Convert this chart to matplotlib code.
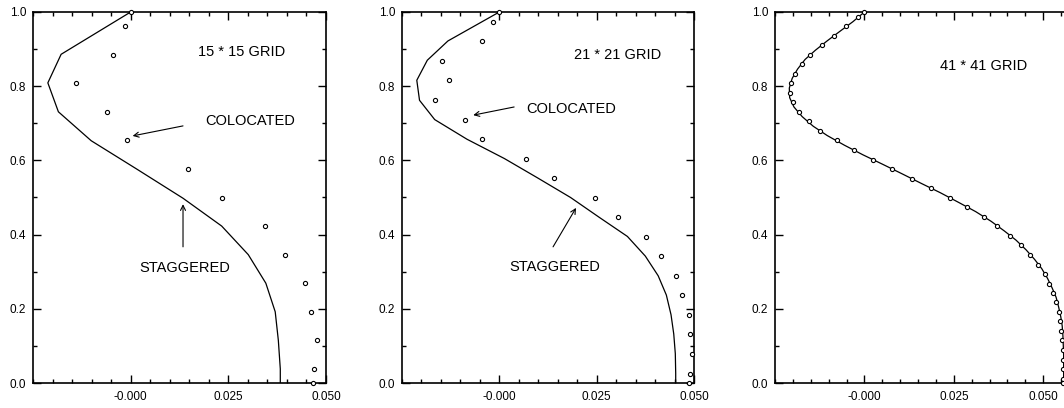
import numpy as np
import matplotlib
matplotlib.use("Agg")
import matplotlib.pyplot as plt
from matplotlib.ticker import MultipleLocator, FixedLocator

plt.rcParams['font.family'] = ['Liberation Sans', 'DejaVu Sans']

# ----------------------------
#  15 * 15 grid
# ----------------------------
y_stag_15 = [1.0, 0.886, 0.809, 0.731, 0.653, 0.577, 0.498, 0.423, 0.346,
             0.269, 0.192, 0.115, 0.038, 0.0]
x_stag_15 = [0.0, -0.0178, -0.0212, -0.0185, -0.0101, 0.0015, 0.0134, 0.0233,
             0.0301, 0.0346, 0.0370, 0.0378, 0.0383, 0.0383]
y_col_15 = [1.0, 0.961, 0.885, 0.808, 0.731, 0.654, 0.577, 0.5, 0.422, 0.345,
            0.269, 0.191, 0.115, 0.038, 0.0]
x_col_15 = [0.0, -0.0015, -0.0044, -0.0140, -0.0061, -0.0010, 0.0146, 0.0235,
            0.0345, 0.0396, 0.0447, 0.0461, 0.0476, 0.0470, 0.0467]

# ----------------------------
#  21 * 21 grid
# ----------------------------
y_stag_21 = [1.0, 0.922, 0.870, 0.816, 0.762, 0.710, 0.657, 0.605, 0.553,
             0.5, 0.447, 0.395, 0.342, 0.289, 0.237, 0.184, 0.132, 0.079,
             0.026, 0.0]
x_stag_21 = [0.0, -0.0132, -0.0185, -0.0212, -0.0205, -0.0166, -0.0083, 0.0013,
             0.0098, 0.0183, 0.0256, 0.0329, 0.0375, 0.0408, 0.0429, 0.0441,
             0.0448, 0.0452, 0.0453, 0.0453]
y_col_21 = [1.0, 0.973, 0.921, 0.868, 0.816, 0.763, 0.710, 0.658, 0.605, 0.552,
            0.5, 0.447, 0.394, 0.342, 0.289, 0.236, 0.183, 0.131, 0.078, 0.025,
            0.0]
x_col_21 = [0.0, -0.0015, -0.0045, -0.0146, -0.0128, -0.0164, -0.0087, -0.0045,
            0.0068, 0.0140, 0.0247, 0.0305, 0.0377, 0.0414, 0.0453, 0.0468,
            0.0488, 0.0489, 0.0496, 0.0491, 0.0488]

# ----------------------------
#  41 * 41 grid
# ----------------------------
y_stag_41 = [1.0, 0.974, 0.949, 0.923, 0.897, 0.872, 0.846, 0.821, 0.795, 0.769,
             0.744, 0.718, 0.692, 0.667, 0.641, 0.615, 0.590, 0.564, 0.538,
             0.513, 0.487, 0.462, 0.436, 0.410, 0.385, 0.359, 0.333, 0.308,
             0.282, 0.256, 0.231, 0.205, 0.179, 0.154, 0.128, 0.103, 0.077,
             0.051, 0.026, 0.0]
x_stag_41 = [0.0, -0.0032, -0.0067, -0.0103, -0.0137, -0.0166, -0.0187, -0.0202,
             -0.0210, -0.0209, -0.0197, -0.0174, -0.0143, -0.0104, -0.0056,
             -0.0004, 0.0050, 0.0105, 0.0159, 0.0212, 0.0263, 0.0311, 0.0354,
             0.0391, 0.0424, 0.0452, 0.0476, 0.0496, 0.0512, 0.0525, 0.0536,
             0.0543, 0.0549, 0.0553, 0.0555, 0.0556, 0.0557, 0.0557, 0.0557,
             0.0557]
y_col_41 = [1.0, 0.987, 0.961, 0.936, 0.911, 0.885, 0.859, 0.834, 0.808, 0.782,
            0.757, 0.731, 0.705, 0.679, 0.654, 0.628, 0.602, 0.577, 0.551,
            0.525, 0.5, 0.474, 0.448, 0.422, 0.396, 0.371, 0.345, 0.319, 0.294,
            0.268, 0.242, 0.217, 0.191, 0.166, 0.140, 0.115, 0.089, 0.063,
            0.038, 0.012, 0.0]
x_col_41 = [0.0, -0.0017, -0.0051, -0.0084, -0.0119, -0.0151, -0.0175, -0.0194,
            -0.0204, -0.0207, -0.0199, -0.0184, -0.0156, -0.0123, -0.0078,
            -0.0030, 0.0024, 0.0076, 0.0133, 0.0185, 0.0239, 0.0287, 0.0333,
            0.0371, 0.0408, 0.0437, 0.0463, 0.0485, 0.0504, 0.0517, 0.0528,
            0.0537, 0.0544, 0.0547, 0.0551, 0.0553, 0.0554, 0.0555, 0.0555,
            0.0555, 0.0555]

titulos = ["15 * 15 GRID", "21 * 21 GRID", "41 * 41 GRID"]

W, H = 1064, 408
fig = plt.figure(figsize=(W / 100, H / 100), dpi=100)

# posiciones en pixeles (izq, der); el tercero se sale por la derecha
cajas = [(33, 326), (402, 694), (775, 1079)]
xlims = [(-0.025, 0.050), (-0.025, 0.050), (-0.025, 0.060)]
abajo, arriba = 383, 12

datos = [
    (x_stag_15, y_stag_15, x_col_15, y_col_15),
    (x_stag_21, y_stag_21, x_col_21, y_col_21),
    (x_stag_41, y_stag_41, x_col_41, y_col_41),
]
pos_titulo = [(0.0285, 0.892), (0.0305, 0.884), (0.0333, 0.854)]

ejes = []
for k in range(3):
    l, r = cajas[k]
    ax = fig.add_axes([l / W, (H - abajo) / H, (r - l) / W, (abajo - arriba) / H])
    xs, ys, xc, yc = datos[k]
    ax.plot(xs, ys, color='black', lw=0.9, zorder=2)
    ax.plot(xc, yc, linestyle='none', marker='o', markersize=3.0,
            markerfacecolor='white', markeredgecolor='black',
            markeredgewidth=0.8, zorder=3, clip_on=False)
    ax.set_xlim(*xlims[k])
    ax.set_ylim(0, 1.0)
    ax.xaxis.set_major_locator(FixedLocator([0.0, 0.025, 0.050]))
    ax.set_xticklabels(["-0.000", "0.025", "0.050"])
    ax.xaxis.set_minor_locator(MultipleLocator(0.005))
    ax.yaxis.set_major_locator(MultipleLocator(0.2))
    ax.yaxis.set_minor_locator(MultipleLocator(0.1))
    ax.tick_params(which='both', direction='in', top=True, right=True,
                   width=1.0, labelsize=8.5, colors='black')
    ax.tick_params(which='major', length=5.5)
    ax.tick_params(which='minor', length=3)
    ax.tick_params(axis='x', pad=6)
    ax.tick_params(axis='y', pad=5)
    for s in ax.spines.values():
        s.set_linewidth(1.2)
    tx, ty = pos_titulo[k]
    ax.text(tx, ty, titulos[k], ha='center', va='center', fontsize=10.5)
    ejes.append(ax)

flecha = dict(arrowstyle='->', lw=0.8, color='black', shrinkA=0, shrinkB=0,
              mutation_scale=9)

# anotaciones 15 * 15
ax = ejes[0]
ax.text(0.0306, 0.706, "COLOCATED", ha='center', va='center', fontsize=10.5)
ax.annotate("", xy=(0.0005, 0.666), xytext=(0.0134, 0.693), arrowprops=flecha)
ax.text(0.0139, 0.310, "STAGGERED", ha='center', va='center', fontsize=10.5)
ax.annotate("", xy=(0.0134, 0.482), xytext=(0.0134, 0.367), arrowprops=flecha)

# anotaciones 21 * 21
ax = ejes[1]
ax.text(0.0184, 0.739, "COLOCATED", ha='center', va='center', fontsize=10.5)
ax.annotate("", xy=(-0.0067, 0.722), xytext=(0.0038, 0.744), arrowprops=flecha)
ax.text(0.0143, 0.313, "STAGGERED", ha='center', va='center', fontsize=10.5)
ax.annotate("", xy=(0.0197, 0.472), xytext=(0.0138, 0.367), arrowprops=flecha)

fig.savefig("out.png", dpi=100)
